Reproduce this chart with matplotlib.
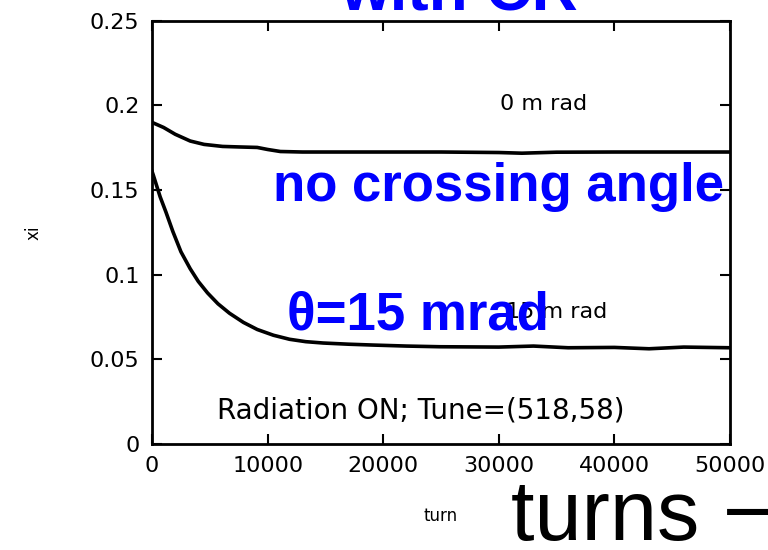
import matplotlib.pyplot as plt

# data
turns_0 = [0, 1000, 2000, 3300, 4500, 6100, 7500, 9100, 10000, 11100, 13000,
           15000, 20000, 25000, 30000, 32000, 35000, 40000, 45000, 50000]
xi_0 = [0.190, 0.187, 0.183, 0.179, 0.177, 0.1758, 0.1755, 0.1752, 0.174, 0.1728, 0.1725,
        0.1725, 0.1725, 0.1725, 0.1722, 0.1718, 0.1724, 0.1725, 0.1725, 0.1725]

turns_15 = [0, 100, 700, 1200, 1800, 2500, 3300, 4000, 4800, 5700, 6700, 7900, 9100,
            10500, 11900, 13300, 14800, 17000, 19100, 22000, 24900, 30000, 33000,
            36000, 40000, 43000, 46000, 50000]
xi_15 = [0.161, 0.159, 0.146, 0.137, 0.1255, 0.1135, 0.1035, 0.096, 0.0892, 0.0828, 0.0772,
         0.0718, 0.0676, 0.0642, 0.0618, 0.0604, 0.0596, 0.0589, 0.0584, 0.0578,
         0.0574, 0.0572, 0.0578, 0.0568, 0.0570, 0.0562, 0.0572, 0.0568]

x_ticks = [0, 10000, 20000, 30000, 40000, 50000]
y_ticks = [0, 0.05, 0.1, 0.15, 0.2, 0.25]
y_tick_labels = ["0", "0.05", "0.1", "0.15", "0.2", "0.25"]

fig = plt.figure(figsize=(7.68, 5.5), dpi=100)
ax = fig.add_axes([0.198, 0.193, 0.7525, 0.769])

ax.plot(turns_0, xi_0, color="black", lw=2.6, zorder=2)
ax.plot(turns_15, xi_15, color="black", lw=2.6, zorder=2)

ax.set_xlim(0, 50000)
ax.set_ylim(0, 0.25)
ax.set_xticks(x_ticks)
ax.set_xticklabels([str(t) for t in x_ticks])
ax.set_yticks(y_ticks)
ax.set_yticklabels(y_tick_labels)
ax.tick_params(direction="in", length=7, width=1.5, top=True, right=True,
               labelsize=16, pad=9)
for s in ax.spines.values():
    s.set_linewidth(2)

ax.set_xlabel("turn", fontsize=12, labelpad=22)
ax.set_ylabel("xi", fontsize=12, labelpad=34)

# small labels inside the plot
ax.text(33900, 0.201, "0 m rad", fontsize=16, ha="center", va="center", zorder=1)
ax.text(35000, 0.078, "15 m rad", fontsize=16, ha="center", va="center", zorder=1)
ax.text(23270, 0.020, "Radiation ON; Tune=(518,58)", fontsize=20,
        ha="center", va="center", zorder=1)

# big blue annotations
blue = "#0000ff"
ax.text(30000, 0.1435, "no crossing angle", color=blue, fontsize=38,
        fontweight="bold", family="Liberation Sans", ha="center", va="baseline", zorder=5)
ax.text(11700, 0.0674, "\u03b8=15 mrad", color=blue, fontsize=38,
        fontweight="bold", family="Liberation Sans", ha="left", va="baseline", zorder=5)
fig.text(0.598, 0.982, "with CR", color=blue, fontsize=46, fontweight="bold",
         family="Liberation Sans", ha="center", va="baseline")

fig.text(0.665, 0.018, "turns \u2212", color="black", fontsize=61,
         family="Liberation Sans", ha="left", va="baseline")

fig.savefig("out.png", dpi=100)
